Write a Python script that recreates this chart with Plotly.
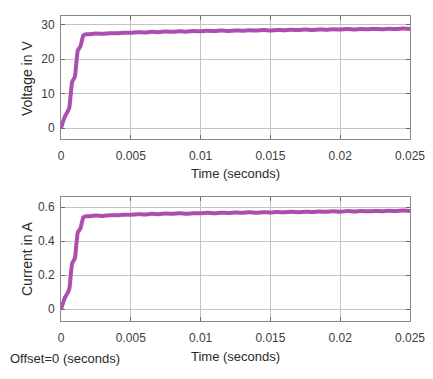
import plotly.graph_objects as go

# ---- data ----
time_s = [0, 0.0002, 0.0003, 0.0005, 0.0006, 0.0007, 0.0008, 0.0009, 0.001, 0.0011,
          0.0012, 0.0013, 0.0014, 0.0015, 0.0016, 0.0017, 0.0018,
          0.002, 0.0025, 0.003, 0.0035, 0.004, 0.0045, 0.005, 0.0055, 0.006, 0.0065,
          0.007, 0.0075, 0.008, 0.0085, 0.009, 0.0095, 0.01, 0.0105, 0.011, 0.0115,
          0.012, 0.0125, 0.013, 0.0135, 0.014, 0.0145, 0.015, 0.0155, 0.016, 0.0165,
          0.017, 0.0175, 0.018, 0.0185, 0.019, 0.0195, 0.02, 0.0205, 0.021, 0.0215,
          0.022, 0.0225, 0.023, 0.0235, 0.024, 0.0245, 0.025]

voltage_v = [0, 2.5, 3.5, 5.0, 6.0, 10.0, 13.5, 14.2, 15.0, 19.0,
             22.5, 23.2, 23.8, 25.5, 27.0, 27.2, 27.3,
             27.3, 27.5, 27.4, 27.6, 27.55, 27.75, 27.7, 27.9, 27.8, 28.0,
             27.9, 28.1, 28.0, 28.15, 28.05, 28.2, 28.15, 28.3, 28.2, 28.35,
             28.25, 28.4, 28.3, 28.45, 28.35, 28.5, 28.4, 28.55, 28.45, 28.6,
             28.5, 28.65, 28.55, 28.7, 28.6, 28.75, 28.65, 28.8, 28.7, 28.8,
             28.75, 28.85, 28.75, 28.9, 28.8, 28.95, 28.85]

current_a = [0, 0.05, 0.07, 0.10, 0.12, 0.20, 0.27, 0.284, 0.30, 0.38,
             0.45, 0.464, 0.476, 0.51, 0.54, 0.544, 0.546,
             0.546, 0.550, 0.548, 0.552, 0.551, 0.555, 0.554, 0.558, 0.556, 0.560,
             0.558, 0.562, 0.560, 0.563, 0.561, 0.564, 0.563, 0.566, 0.564, 0.567,
             0.565, 0.568, 0.566, 0.569, 0.567, 0.570, 0.568, 0.571, 0.569, 0.572,
             0.570, 0.573, 0.571, 0.574, 0.572, 0.575, 0.573, 0.576, 0.574, 0.576,
             0.575, 0.577, 0.575, 0.578, 0.576, 0.579, 0.577]

x_ticks = [0, 0.005, 0.01, 0.015, 0.02, 0.025]
x_tick_labels = ["0", "0.005", "0.01", "0.015", "0.02", "0.025"]
v_ticks = [0, 10, 20, 30]
v_tick_labels = ["0", "10", "20", "30"]
i_ticks = [0, 0.2, 0.4, 0.6]
i_tick_labels = ["0", "0.2", "0.4", "0.6"]

# the page body has an 8px default margin, so the figure is offset by 8px
OFF = 8
W, H = 433 - OFF, 379 - OFF
LINE = "#AD4DAF"
FONT = "Liberation Sans, Arial, sans-serif"

def px(x):
    return (x - OFF) / W

def py(y):
    return 1 - (y - OFF) / H

fig = go.Figure()
fig.add_trace(go.Scatter(x=time_s, y=voltage_v, mode="lines", xaxis="x", yaxis="y",
                         line=dict(color=LINE, width=4, shape="spline", smoothing=0.4),
                         showlegend=False))
fig.add_trace(go.Scatter(x=time_s, y=current_a, mode="lines", xaxis="x2", yaxis="y2",
                         line=dict(color=LINE, width=4, shape="spline", smoothing=0.4),
                         showlegend=False))

axis_common = dict(showline=True, linecolor="#8a8a8a", linewidth=1, mirror="ticks",
                   showgrid=True, gridcolor="#c4c4c4", gridwidth=1, zeroline=False,
                   ticks="inside", ticklen=4, tickcolor="#6a6a6a", automargin=False,
                   tickfont=dict(family=FONT, size=12, color="#3c3c3c"))

xdom = [px(61), px(410)]
fig.update_layout(
    template="none",
    width=W, height=H,
    margin=dict(l=0, r=0, t=0, b=0, pad=0),
    paper_bgcolor="white", plot_bgcolor="white",
    xaxis=dict(domain=xdom, range=[0, 0.025], tickvals=x_ticks, ticktext=x_tick_labels,
               anchor="y", ticklabelstandoff=6, **axis_common),
    yaxis=dict(domain=[py(139), py(16)], range=[-3.2, 32.6], tickvals=v_ticks,
               ticktext=v_tick_labels, anchor="x", ticklabelstandoff=3, **axis_common),
    xaxis2=dict(domain=xdom, range=[0, 0.025], tickvals=x_ticks, ticktext=x_tick_labels,
                anchor="y2", ticklabelstandoff=6, **axis_common),
    yaxis2=dict(domain=[py(321), py(197)], range=[-0.07, 0.659], tickvals=i_ticks,
                ticktext=i_tick_labels, anchor="x2", ticklabelstandoff=3, **axis_common),
)

ann_font = dict(family=FONT, size=13, color="#2a2a2a")
fig.add_annotation(x=px(235.5), y=py(173), xref="paper", yref="paper", text="Time (seconds)",
                   showarrow=False, font=ann_font, xanchor="center", yanchor="middle")
fig.add_annotation(x=px(235.5), y=py(356), xref="paper", yref="paper", text="Time (seconds)",
                   showarrow=False, font=ann_font, xanchor="center", yanchor="middle")
fig.add_annotation(x=px(27), y=py(79), xref="paper", yref="paper", text="Voltage in V",
                   showarrow=False, font=dict(family=FONT, size=14, color="#2a2a2a"),
                   textangle=-90, xanchor="center", yanchor="middle")
fig.add_annotation(x=px(27), y=py(259), xref="paper", yref="paper", text="Current in A",
                   showarrow=False, font=dict(family=FONT, size=14, color="#2a2a2a"),
                   textangle=-90, xanchor="center", yanchor="middle")
fig.add_annotation(x=px(8), y=py(358), xref="paper", yref="paper", text="Offset=0 (seconds)",
                   showarrow=False, font=ann_font, xanchor="left", yanchor="middle")

fig.write_html("out.html")
